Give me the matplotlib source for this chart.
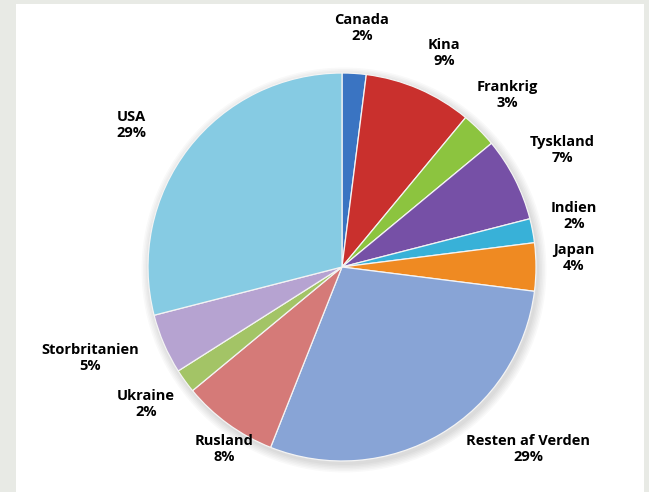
import matplotlib.pyplot as plt
from matplotlib.patches import Rectangle, Circle

# data
lande = ['Canada', 'Kina', 'Frankrig', 'Tyskland', 'Indien', 'Japan',
         'Resten af Verden', 'Rusland', 'Ukraine', 'Storbritanien', 'USA']
andele = [2, 9, 3, 7, 2, 4, 29, 8, 2, 5, 29]
farver = ['#3A74C2', '#C9302D', '#8CC43F', '#7650A6', '#38B1D8', '#EF8A22',
          '#88A4D6', '#D57A78', '#A3C466', '#B6A3D1', '#86CBE3']
# label positions in pixels (x, y from top)
label_pos = [(362, 28), (444, 53), (507, 95), (562, 150), (574, 216), (574, 258),
             (528, 449), (224, 449), (146, 404), (90, 358), (131, 125)]

W, H = 649, 492
fig = plt.figure(figsize=(W / 100, H / 100), dpi=100)
fig.patch.set_facecolor('#E8EAE5')
ax = fig.add_axes([0, 0, 1, 1])

# white panel
ax.add_patch(Rectangle((16, 0), 628, H - 4, facecolor='white', edgecolor='none', zorder=0))

cx, cy, r = 342, H - 267, 194

# soft shadow
for i in range(6):
    ax.add_patch(Circle((cx + 2, cy - 3), r + 1 + i * 1.5, facecolor='#000000',
                        alpha=0.025, edgecolor='none', zorder=1))

wedges, _ = ax.pie(andele, colors=farver, startangle=90, counterclock=False,
                   center=(cx, cy), radius=r,
                   wedgeprops=dict(edgecolor='#f4f4f4', linewidth=0.9))
for w in wedges:
    w.set_zorder(2)

for navn, pct, (px, py) in zip(lande, andele, label_pos):
    ax.text(px, H - py, f'{navn}\n{pct}%', ha='center', va='center',
            fontsize=10.5, fontweight='bold', family='Open Sans',
            linespacing=1.1, zorder=3)

ax.set_xlim(0, W)
ax.set_ylim(0, H)
ax.set_aspect('equal')
ax.axis('off')

fig.savefig('out.png', dpi=100, facecolor=fig.get_facecolor())
